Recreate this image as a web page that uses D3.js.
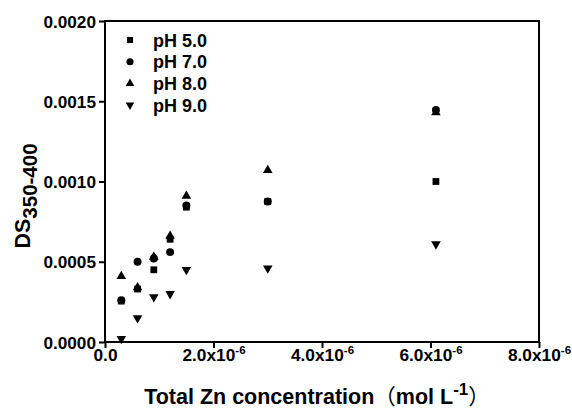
<!DOCTYPE html>
<html><head><meta charset="utf-8">
<script src="https://cdn.jsdelivr.net/npm/d3@7"></script>
<style>body{margin:0;background:#fff}svg{display:block}text{font-family:"Liberation Sans",Arial,sans-serif;font-weight:bold;fill:#000}</style>
</head><body><svg id="c" width="572" height="411"></svg>
<script>
const concentrations = [0.3e-6, 0.6e-6, 0.9e-6, 1.2e-6, 1.5e-6, 3.0e-6, 6.1e-6];
const pH50 = [0.000255, 0.00033, 0.00045, 0.00064, 0.00084, 0.000875, 0.00100];
const pH70 = [0.00026, 0.00050, 0.00052, 0.00056, 0.00085, 0.000875, 0.001445];
const pH80 = [0.00041, 0.00034, 0.00053, 0.00066, 0.00091, 0.00107, 0.00143];
const pH90 = [0.00002, 0.00015, 0.00028, 0.00030, 0.00045, 0.00046, 0.00061];
const seriesNames = ["pH 5.0", "pH 7.0", "pH 8.0", "pH 9.0"];
const xTicks = [0, 2e-6, 4e-6, 6e-6, 8e-6];
const yTicks = [0, 0.0005, 0.0010, 0.0015, 0.0020];

const svg = d3.select("#c");
const L = 105, R = 539, T = 21, B = 342;
const x = d3.scaleLinear().domain([0, 8e-6]).range([L, R]);
const y = d3.scaleLinear().domain([0, 0.002]).range([B, T]);

const series = [
  {name: seriesNames[0], vals: pH50, sym: d3.symbolSquare, size: 46, rot: 0},
  {name: seriesNames[1], vals: pH70, sym: d3.symbolCircle, size: 50, rot: 0},
  {name: seriesNames[2], vals: pH80, sym: d3.symbolTriangle, size: 40, rot: 0},
  {name: seriesNames[3], vals: pH90, sym: d3.symbolTriangle, size: 40, rot: 180}
];

// frame
svg.append("rect").attr("x", L).attr("y", T).attr("width", R - L).attr("height", B - T)
  .attr("fill", "none").attr("stroke", "#000").attr("stroke-width", 2);

// axes
const xAxis = d3.axisBottom(x).tickValues(xTicks).tickSize(6).tickFormat("");
const gx = svg.append("g").attr("transform", `translate(0,${B})`).call(xAxis);
gx.selectAll(".tick line").attr("stroke-width", 2);
gx.selectAll(".tick").each(function(d) {
  const t = d3.select(this).append("text").attr("y", 18.5).attr("text-anchor", "middle")
    .attr("font-size", 17.3);
  if (d === 0) { t.text("0.0"); }
  else {
    const m = d / 1e-6;
    t.append("tspan").text(m.toFixed(1) + "x10");
    t.append("tspan").attr("dy", -7).attr("font-size", 11.5).text("-6");
  }
});

const yAxis = d3.axisLeft(y).tickValues(yTicks).tickSize(6).tickFormat(d3.format(".4f"));
const gy = svg.append("g").attr("transform", `translate(${L},0)`).call(yAxis);
gy.selectAll(".tick line").attr("stroke-width", 2);
gy.selectAll(".tick text").attr("font-size", 17.2).attr("font-family", null).attr("x", -9).attr("dy", "0.35em");
svg.selectAll(".domain").remove();

// points
series.forEach(s => {
  svg.append("g").selectAll("path").data(s.vals.map((v, i) => [concentrations[i], v]))
    .join("path")
    .attr("d", d3.symbol().type(s.sym).size(s.size))
    .attr("transform", d => `translate(${x(d[0])},${y(d[1])}) rotate(${s.rot})`)
    .attr("fill", "#000");
});

// legend
const leg = svg.append("g");
series.forEach((s, i) => {
  const cy = 40 + i * 21.7;
  leg.append("path").attr("d", d3.symbol().type(s.sym).size(s.size * 0.8))
    .attr("transform", `translate(130,${cy}) rotate(${s.rot})`).attr("fill", "#000");
  leg.append("text").attr("x", 153).attr("y", cy + 6.5).attr("font-size", 18).text(s.name);
});

// axis titles
const xt = svg.append("text").attr("x", 317).attr("y", 404).attr("text-anchor", "middle").attr("font-size", 21.5);
xt.append("tspan").text("Total Zn concentration");
xt.append("tspan").attr("font-family", "'Noto Sans CJK SC'").attr("font-weight", "normal").text("（");
xt.append("tspan").text("mol L");
xt.append("tspan").attr("dy", -9).attr("font-size", 17).text("-1");
xt.append("tspan").attr("dy", 9).attr("font-family", "'Noto Sans CJK SC'").attr("font-weight", "normal").text("）");

const yt = svg.append("text").attr("transform", "translate(30,196) rotate(-90)").attr("text-anchor", "middle").attr("font-size", 21.5);
yt.append("tspan").text("DS");
yt.append("tspan").attr("dy", 7).attr("font-size", 20.5).text("350-400");
</script></body></html>
